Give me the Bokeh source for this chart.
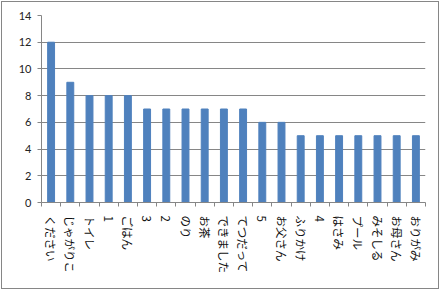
from bokeh.plotting import figure
from bokeh.models import Range1d, LinearAxis, FixedTicker
from bokeh.embed import file_html
from bokeh.resources import INLINE
import math

categories = ["ください", "じゃがりこ", "トイレ", "1", "ごはん", "3", "2", "のり", "お茶",
              "できました", "てつだって", "5", "お父さん", "ふりかけ", "4", "はさみ", "プール",
              "みそしる", "お母さん", "おりがみ"]
values = [12, 9, 8, 8, 8, 7, 7, 7, 7, 7, 7, 6, 6, 5, 5, 5, 5, 5, 5, 5]
y_ticks = [0, 2, 4, 6, 8, 10, 12, 14]

GRAY = "#868686"
n = len(categories)
centers = [i + 0.5 for i in range(n)]

p = figure(width=436, height=286, x_range=Range1d(0, n),
           y_range=Range1d(0, 14), output_backend="svg", toolbar_location=None,
           x_axis_location=None, min_border_left=39, min_border_right=15,
           min_border_top=13, min_border_bottom=88,
           styles={"border": "1px solid #868686", "margin": "1px 0 0 1px",
                   "box-sizing": "content-box"})
p.outline_line_color = None
p.background_fill_color = "white"
p.border_fill_color = "white"

p.vbar(x=centers, top=values, width=0.36, color="#4F81BD")

# y axis
yax = p.yaxis[0]
yax.ticker = FixedTicker(ticks=y_ticks)
yax.axis_line_color = GRAY
yax.major_tick_line_color = GRAY
yax.major_tick_out = 4
yax.major_tick_in = 0
yax.minor_tick_line_color = None
yax.major_label_text_font = "Lato"
yax.major_label_text_font_size = "11px"
yax.major_label_text_color = "#222222"
yax.major_label_standoff = 6

p.ygrid.ticker = FixedTicker(ticks=y_ticks)
p.ygrid.grid_line_color = GRAY
p.xgrid.grid_line_color = None

cax = LinearAxis(ticker=FixedTicker(ticks=centers, minor_ticks=list(range(n + 1))),
                 major_label_overrides={c: lab for c, lab in zip(centers, categories)})
cax.axis_line_color = GRAY
cax.major_tick_line_color = None
cax.minor_tick_line_color = GRAY
cax.minor_tick_out = 4
cax.minor_tick_in = 0
cax.major_label_orientation = -math.pi / 2
cax.major_label_text_font = "Noto Sans CJK JP"
cax.major_label_text_font_size = "11.5px"
cax.major_label_text_color = "#111111"
cax.major_label_standoff = 7
p.add_layout(cax, "below")

open("out.html", "w").write(file_html(p, INLINE))
